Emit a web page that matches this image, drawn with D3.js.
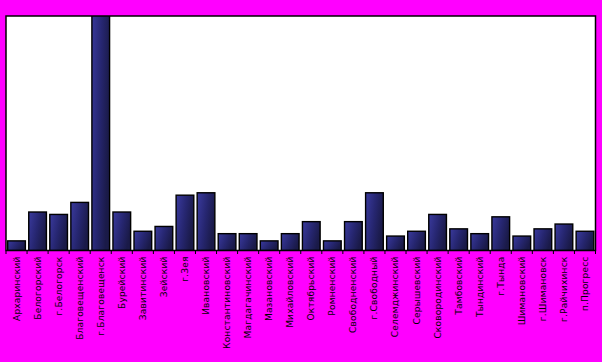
<!DOCTYPE html>
<html><head><meta charset="utf-8">
<script src="https://cdn.jsdelivr.net/npm/d3@7"></script>
<style>body{margin:0;background:#ff00ff;}svg{display:block;}</style>
</head><body>
<svg id="c" width="602" height="362"></svg>
<script>
const categories = ["Архаринский","Белогорский","г.Белогорск","Благовещенский","г.Благовещенск","Бурейский","Завитинский","Зейский","г.Зея","Ивановский","Константиновский","Магдагачинский","Мазановский","Михайловский","Октябрьский","Ромненский","Свободненский","г.Свободный","Селемджинский","Серышевский","Сковородинский","Тамбовский","Тындинский","г.Тында","Шимановский","г.Шимановск","г.Райчихинск","п.Прогресс"];
const values = [4,16,15,20,110,16,8,10,23,24,7,7,4,7,12,4,12,24,6,8,15,9,7,14,6,9,11,8];
const yMax = 97.5;

const svg = d3.select("#c");
const m = {left:6, right:6.5, top:16, bottom:111.5};
const W = 602, H = 362;
const x = d3.scaleBand().domain(categories).range([m.left, W - m.right]).paddingInner(0.16).paddingOuter(0.08);
const y = d3.scaleLinear().domain([0, yMax]).range([H - m.bottom, m.top]);

const defs = svg.append("defs");
const g = defs.append("linearGradient").attr("id","bg").attr("x1","0").attr("y1","0").attr("x2","1").attr("y2","0.4");
g.append("stop").attr("offset","0").attr("stop-color","#3a3a9e");
g.append("stop").attr("offset","0.55").attr("stop-color","#262670");
g.append("stop").attr("offset","1").attr("stop-color","#1a1a48");
defs.append("clipPath").attr("id","clip").append("rect")
  .attr("x", m.left).attr("y", m.top).attr("width", W - m.left - m.right).attr("height", H - m.top - m.bottom);

svg.append("rect").attr("x", m.left).attr("y", m.top).attr("width", W - m.left - m.right).attr("height", H - m.top - m.bottom)
  .attr("fill","#fff");

svg.append("g").attr("clip-path","url(#clip)").selectAll("rect").data(values).join("rect")
  .attr("x", (d,i) => x(categories[i]))
  .attr("y", d => y(d))
  .attr("width", x.bandwidth())
  .attr("height", d => y(0) - y(d))
  .attr("fill","url(#bg)").attr("stroke","#000").attr("stroke-width",1.4);

svg.append("rect").attr("x", m.left).attr("y", m.top).attr("width", W - m.left - m.right).attr("height", H - m.top - m.bottom)
  .attr("fill","none").attr("stroke","#000").attr("stroke-width",1.5);

const tickX = d3.range(categories.length + 1).map(i => m.left + i * (W - m.left - m.right) / categories.length);
svg.append("g").selectAll("line").data(tickX).join("line")
  .attr("x1", d => d).attr("x2", d => d).attr("y1", y(0)).attr("y2", y(0) + 3.5)
  .attr("stroke","#000").attr("stroke-width",1);

svg.append("g").selectAll("text").data(categories).join("text")
  .attr("transform", d => `translate(${x(d) + x.bandwidth()/2 + 3},${y(0) + 6}) rotate(-90)`)
  .attr("text-anchor","end")
  .attr("font-family","DejaVu Sans, sans-serif").attr("font-size","9px").attr("letter-spacing","0.2px").attr("fill","#000")
  .text(d => d);
</script>
</body></html>
